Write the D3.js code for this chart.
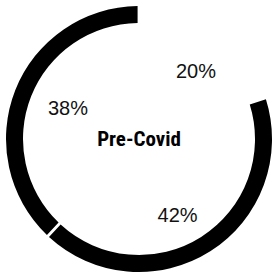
<!DOCTYPE html>
<html>
<head>
<meta charset="utf-8">
<script src="https://cdn.jsdelivr.net/npm/d3@7"></script>
<style>
  html, body { margin: 0; padding: 0; background: #fff; }
</style>
</head>
<body>
<script>
'use strict';

// slice data, clockwise from 12 o'clock
const categories = ["A", "B", "C"];
const values = [20, 42, 38];
const labels = ["20%", "42%", "38%"];
const sliceColors = ["none", "#000", "#000"];
const title = "Pre-Covid";

(function() {
  const width = 273, height = 276;
  const cx = 139, cy = 139;
  const outerR = 133, innerR = 116;

  // small hand nudges of the label positions (layout, not data)
  const labelNudge = [[7, 1], [-7, 4], [8, 0]];

  const svg = d3.select('body')
    .append('svg')
    .attr('width', width)
    .attr('height', height);

  const g = svg.append('g')
    .attr('transform', `translate(${cx},${cy})`);

  const pie = d3.pie()
    .sort(null)
    .value(d => d.value);

  const slices = pie(categories.map((c, i) => ({
    cat: c, value: values[i], label: labels[i], color: sliceColors[i]
  })));

  const arc = d3.arc()
    .innerRadius(innerR)
    .outerRadius(outerR)
    .padAngle(0.016);

  const labelArc = d3.arc()
    .innerRadius(85)
    .outerRadius(85);

  // ring segments
  g.selectAll('path.slice')
    .data(slices)
    .enter()
    .append('path')
      .attr('class', 'slice')
      .attr('d', arc)
      .attr('fill', d => d.data.color);

  // percent labels
  g.selectAll('text.pct')
    .data(slices)
    .enter()
    .append('text')
      .attr('class', 'pct')
      .attr('transform', (d, i) => {
        const c = labelArc.centroid(d);
        return `translate(${c[0] + labelNudge[i][0]},${c[1] + labelNudge[i][1]})`;
      })
      .attr('text-anchor', 'middle')
      .attr('dy', '0.36em')
      .style('font-family', '"Liberation Sans", Arial, sans-serif')
      .style('font-size', '20px')
      .style('font-weight', 300)
      .style('fill', '#111')
      .text(d => d.data.label);

  // centre title
  g.append('text')
    .attr('text-anchor', 'middle')
    .attr('y', 7)
    .style('font-family', '"Liberation Sans Narrow", "Roboto Condensed", Arial, sans-serif')
    .style('font-size', '21px')
    .style('font-weight', 'bold')
    .text(title);
})();
</script>
</body>
</html>
